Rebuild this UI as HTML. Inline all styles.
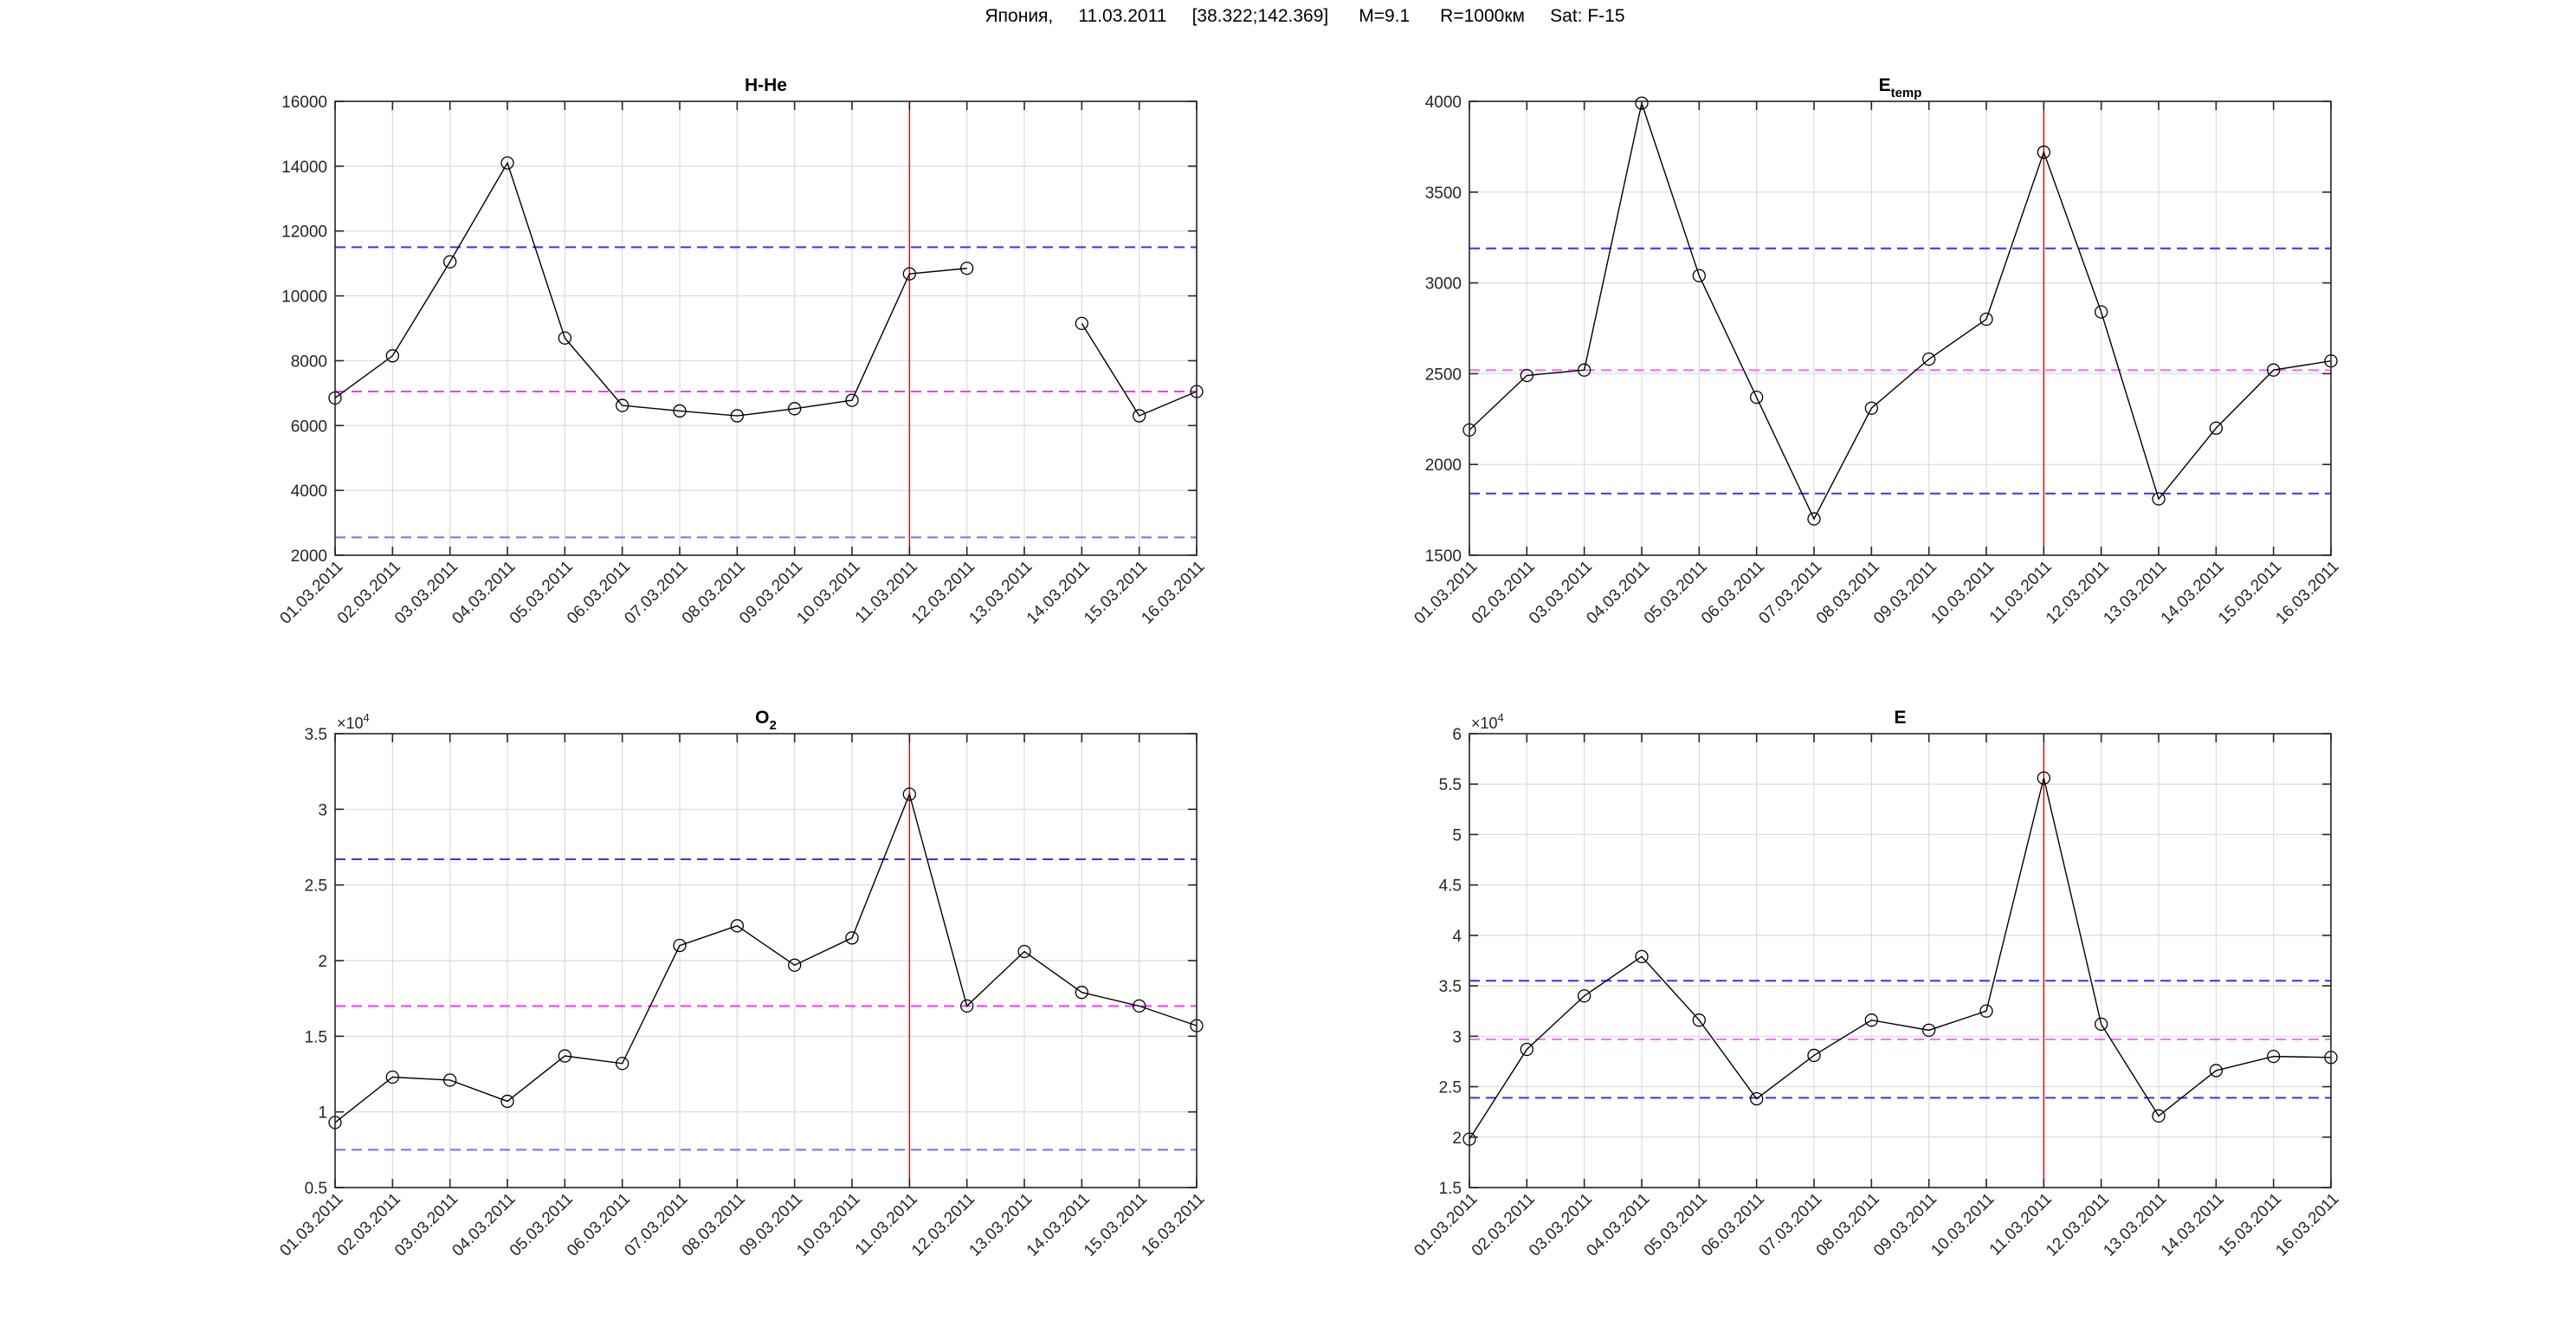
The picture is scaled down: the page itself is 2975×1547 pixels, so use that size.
<!DOCTYPE html>
<html><head><meta charset="utf-8"><style>
html,body{margin:0;padding:0;background:#fff;}
svg text{font-family:"Liberation Sans","Noto Sans CJK SC",sans-serif;}
</style></head><body>
<svg id="s" width="2975" height="1542" xmlns="http://www.w3.org/2000/svg">
<text x="1507" y="25" font-size="21" text-anchor="middle" fill="#000" xml:space="preserve">Япония,     11.03.2011     [38.322;142.369]      M=9.1      R=1000км     Sat: F-15</text>
</svg>
<script>
const S=document.getElementById('s');const NS='http://www.w3.org/2000/svg';
function el(t,a,txt){const e=document.createElementNS(NS,t);for(const k in a)e.setAttribute(k,a[k]);if(txt!==undefined)e.textContent=txt;S.appendChild(e);return e;}
const dates=[];for(let i=1;i<=16;i++)dates.push((i<10?'0':'')+i+'.03.2011');
function plot(o){
 const L=o.L,T=o.T,R=L+995,B=T+524;
 const X=i=>L+i*(R-L)/15, Y=v=>B-(v-o.ymin)/(o.ymax-o.ymin)*(B-T);
 // grid
 for(let i=0;i<16;i++) el('line',{x1:X(i),x2:X(i),y1:T,y2:B,stroke:'#dcdcdc','stroke-width':1.2});
 o.ticks.forEach(v=>el('line',{x1:L,x2:R,y1:Y(v),y2:Y(v),stroke:'#dcdcdc','stroke-width':1.2}));
 // ref lines
 o.refs.forEach(r=>el('line',{x1:L,x2:R,y1:Y(r[0]),y2:Y(r[0]),stroke:r[1],'stroke-width':2,'stroke-dasharray':'12,7'}));
 // vertical line
 el('line',{x1:X(10),x2:X(10),y1:T,y2:B,stroke:'#ff0000','stroke-width':1.5});
 // data
 let seg=[];const segs=[];o.d.forEach((v,i)=>{if(v===null){if(seg.length)segs.push(seg);seg=[];}else seg.push(X(i)+','+Y(v));});if(seg.length)segs.push(seg);
 segs.forEach(s=>el('polyline',{points:s.join(' '),fill:'none',stroke:'#000','stroke-width':1.4}));
 o.d.forEach((v,i)=>{if(v!==null)el('circle',{cx:X(i),cy:Y(v),r:7,fill:'none',stroke:'#000','stroke-width':1.3});});
 // box
 el('rect',{x:L,y:T,width:R-L,height:B-T,fill:'none',stroke:'#262626','stroke-width':1.6});
 for(let i=0;i<16;i++){el('line',{x1:X(i),x2:X(i),y1:B,y2:B-10,stroke:'#262626','stroke-width':1.6});el('line',{x1:X(i),x2:X(i),y1:T,y2:T+10,stroke:'#262626','stroke-width':1.6});
  el('text',{x:X(i)+10,y:B+14,'font-size':19,fill:'#262626','text-anchor':'end',transform:`rotate(-45 ${X(i)+10} ${B+14})`},dates[i]);}
 o.ticks.forEach((v,j)=>{el('line',{x1:L,x2:L+10,y1:Y(v),y2:Y(v),stroke:'#262626','stroke-width':1.6});el('line',{x1:R,x2:R-10,y1:Y(v),y2:Y(v),stroke:'#262626','stroke-width':1.6});
  el('text',{x:L-9,y:Y(v)+7,'font-size':19,fill:'#262626','text-anchor':'end'},o.tl[j]);});
 const t=el('text',{x:(L+R)/2,y:T-12,'font-size':21,'font-weight':'bold','text-anchor':'middle',fill:'#000'});
 t.innerHTML=o.title;
 if(o.exp){const e=el('text',{x:L+2,y:T-6,'font-size':18,fill:'#262626'});e.innerHTML='×10<tspan dy="-8" font-size="13">4</tspan>';}
}
const hhe=[6850,8150,11050,14100,8700,6620,6450,6300,6520,6780,10680,10850,null,9150,6300,7050];
plot({L:387,T:117,ymin:2000,ymax:16000,ticks:[2000,4000,6000,8000,10000,12000,14000,16000],tl:['2000','4000','6000','8000','10000','12000','14000','16000'],
 refs:[[11500,'#3333ff'],[7050,'#ff33ff'],[2550,'#7070ff']],d:hhe,title:'H-He'});
plot({L:1697,T:117,ymin:1500,ymax:4000,ticks:[1500,2000,2500,3000,3500,4000],tl:['1500','2000','2500','3000','3500','4000'],
 refs:[[3190,'#3333ff'],[2520,'#ff66ff'],[1840,'#3333ff']],d:[2190,2490,2520,3990,3040,2370,1700,2310,2580,2800,3720,2840,1810,2200,2520,2570],
 title:'E<tspan dy="7" font-size="15">temp</tspan>'});
plot({L:387,T:847,ymin:0.5,ymax:3.5,ticks:[0.5,1,1.5,2,2.5,3,3.5],tl:['0.5','1','1.5','2','2.5','3','3.5'],
 refs:[[2.67,'#3333ff'],[1.70,'#ff33ff'],[0.75,'#7070ff']],d:[0.93,1.23,1.21,1.07,1.37,1.32,2.10,2.23,1.97,2.15,3.10,1.70,2.06,1.79,1.70,1.57],
 title:'O<tspan dy="7" font-size="15">2</tspan>',exp:1});
plot({L:1697,T:847,ymin:1.5,ymax:6,ticks:[1.5,2,2.5,3,3.5,4,4.5,5,5.5,6],tl:['1.5','2','2.5','3','3.5','4','4.5','5','5.5','6'],
 refs:[[3.55,'#3333ff'],[2.97,'#ff66ff'],[2.39,'#3333ff']],d:[1.98,2.87,3.40,3.79,3.16,2.38,2.81,3.16,3.06,3.25,5.56,3.12,2.21,2.66,2.80,2.79],
 title:'E',exp:1});
</script>
</body></html>
